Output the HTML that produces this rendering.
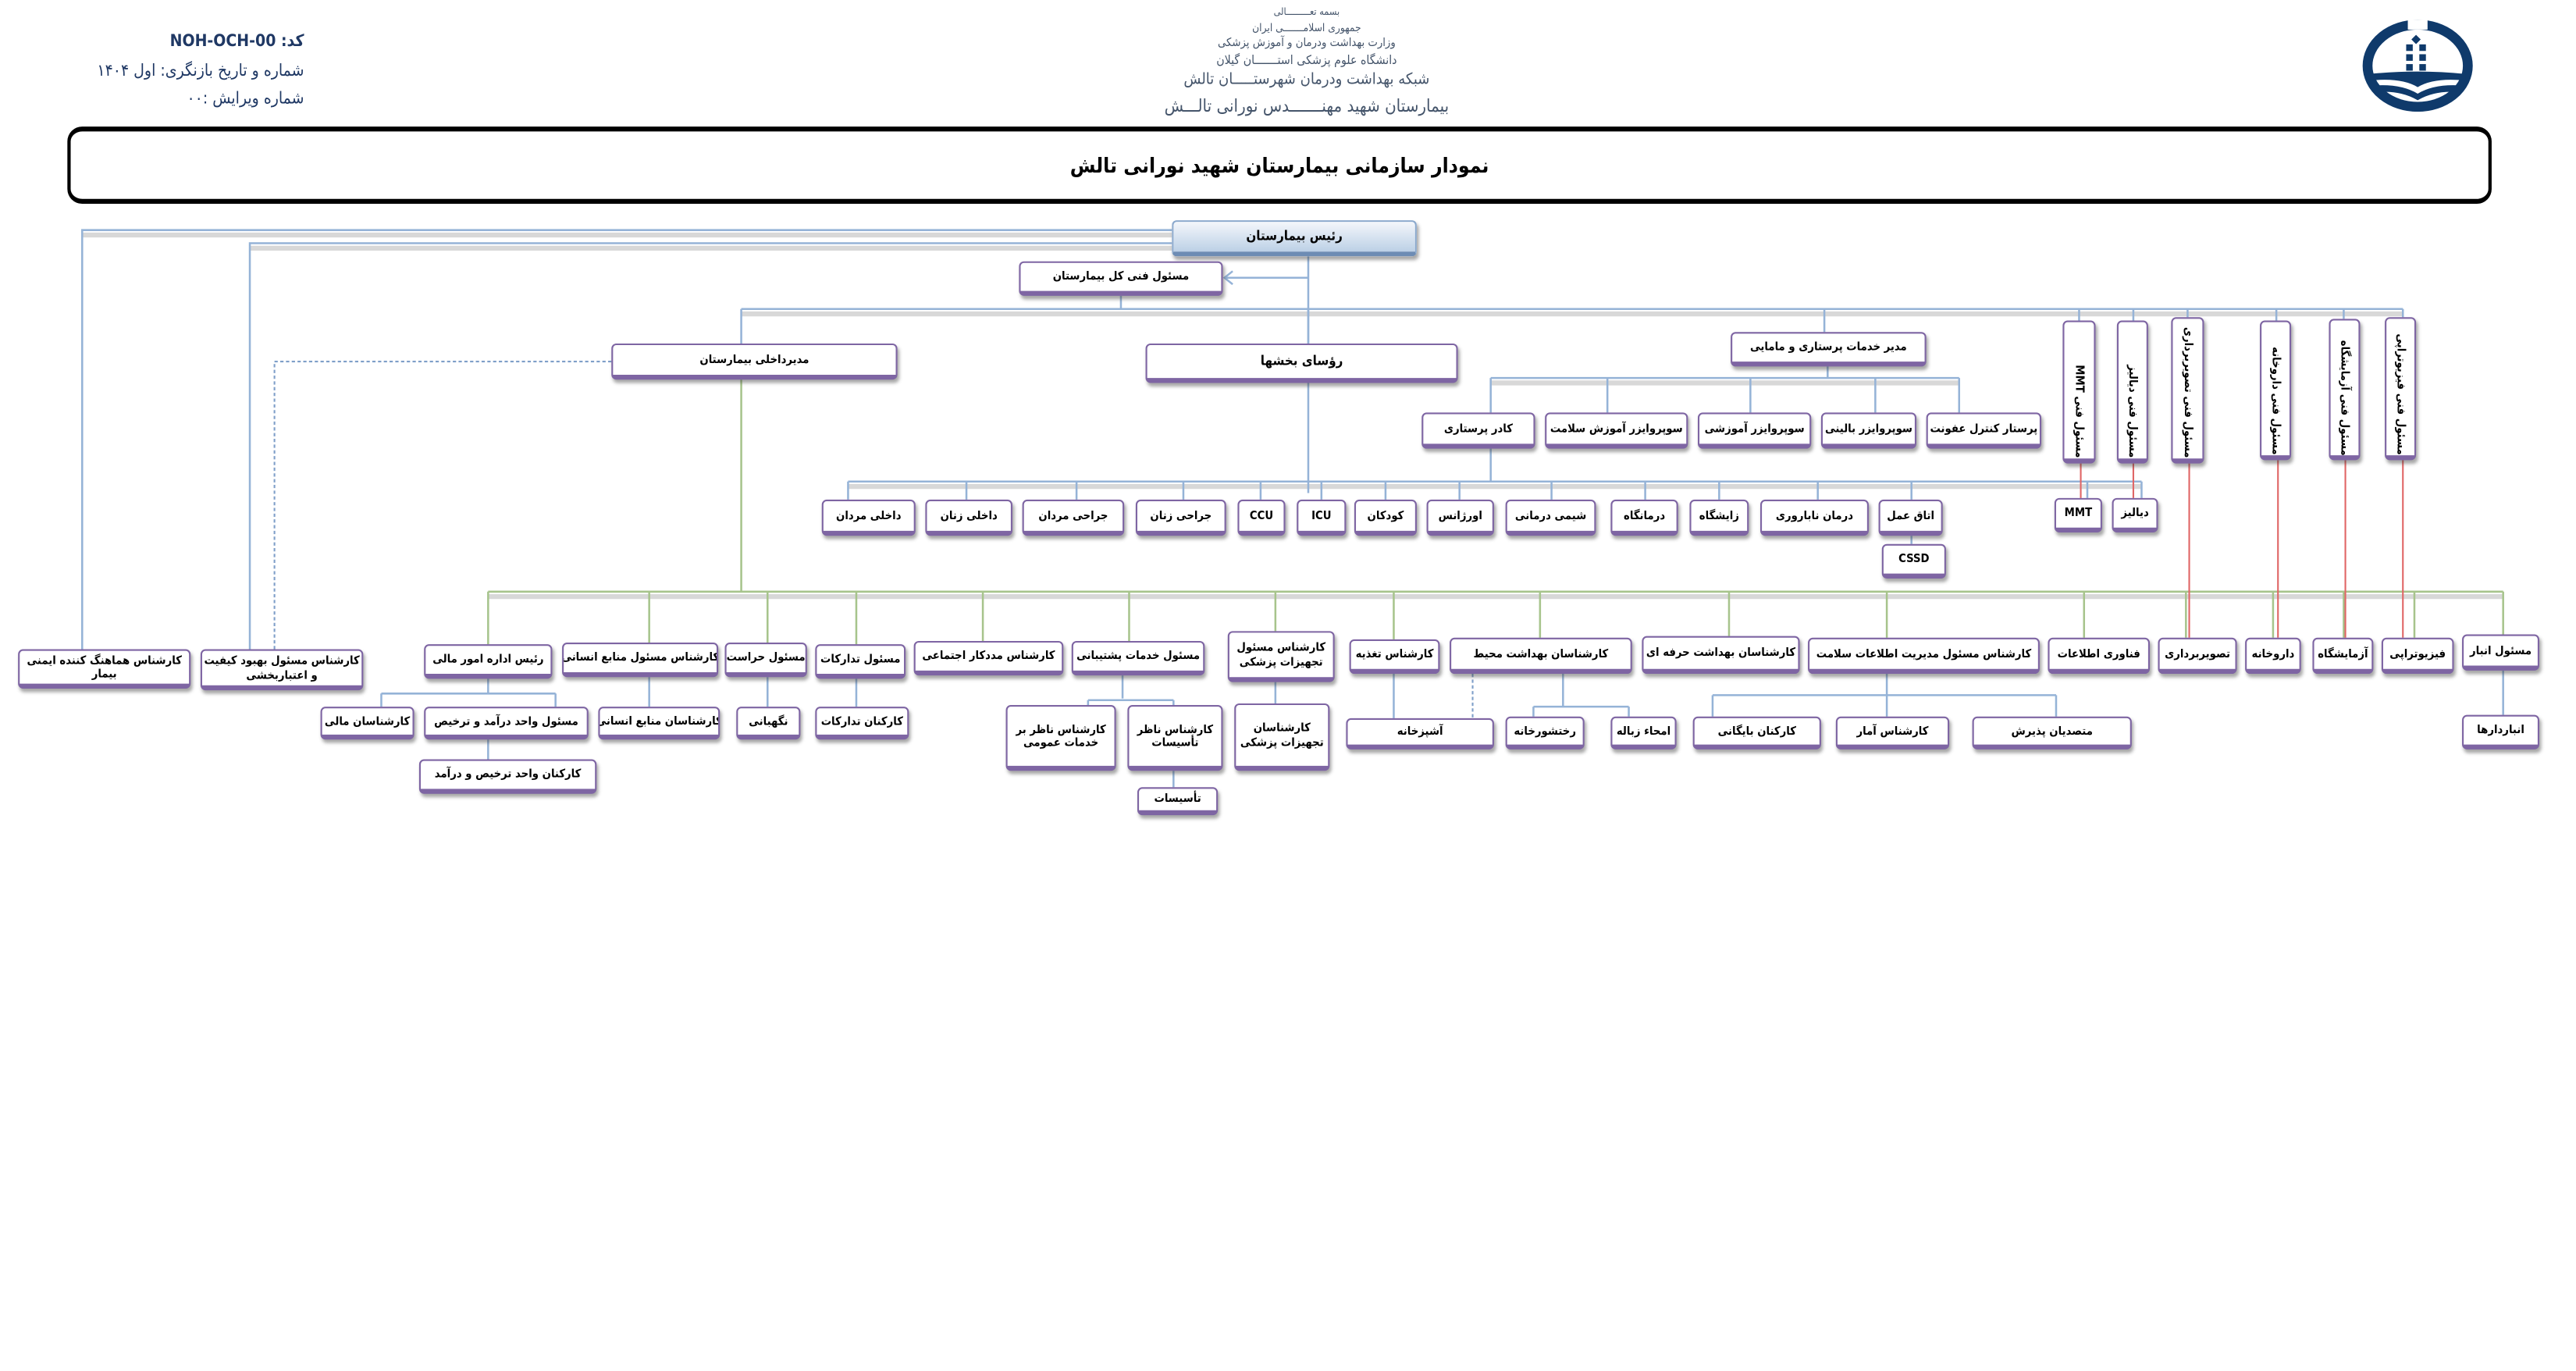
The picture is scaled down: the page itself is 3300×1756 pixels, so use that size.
<!DOCTYPE html>
<html><head><meta charset="utf-8">
<style>
html,body{margin:0;padding:0;background:#fff;width:3300px;height:1755px;overflow:hidden}
#w{position:absolute;left:0;top:0;width:1570px;height:834px;transform:scale(2.1055,2.1050);transform-origin:0 0;font-family:"DejaVu Sans Condensed","DejaVu Sans","Liberation Sans",sans-serif;font-stretch:condensed}
.b{position:absolute;box-sizing:border-box;background:#fff;border:1.6px solid #7e65a3;border-bottom:3px solid #7e65a3;border-radius:3px;box-shadow:1px 2px 2px rgba(60,60,60,.45);display:flex;align-items:center;justify-content:center;text-align:center;font-weight:bold;font-size:7px;line-height:1.2;color:#000;direction:rtl;overflow:hidden;padding:0 1px;white-space:nowrap}
.v{writing-mode:vertical-rl;justify-content:flex-start;padding-top:8px}
.t{position:absolute;direction:rtl;white-space:nowrap;color:#44546a}
</style></head><body><div id="w">

<div class="t" style="right:1385px;top:20px;font-size:10px;color:#1f3864;font-weight:bold">کد: NOH-OCH-00</div>
<div class="t" style="right:1385px;top:38px;font-size:10px;color:#1f3864">شماره و تاریخ بازنگری: اول ۱۴۰۴</div>
<div class="t" style="right:1385px;top:55px;font-size:10px;color:#1f3864">شماره ویرایش :۰۰</div>
<div class="t" style="left:795px;top:4px;transform:translateX(-50%);font-size:6px">بسمه تعـــــــــالی</div>
<div class="t" style="left:795px;top:13px;transform:translateX(-50%);font-size:6.5px">جمهوری اسلامـــــــی ایران</div>
<div class="t" style="left:795px;top:22px;transform:translateX(-50%);font-size:7px">وزارت بهداشت ودرمان و آموزش پزشکی</div>
<div class="t" style="left:795px;top:32px;transform:translateX(-50%);font-size:7.5px">دانشگاه علوم پزشکی استـــــــان گیلان</div>
<div class="t" style="left:795px;top:43px;transform:translateX(-50%);font-size:9.5px">شبکه بهداشت ودرمان شهرستـــــان تالش</div>
<div class="t" style="left:795px;top:59px;transform:translateX(-50%);font-size:10.5px">بیمارستان شهید مهنـــــــدس نورانی تالـــش</div>
<svg style="position:absolute;left:1436px;top:12px" width="70" height="56" viewBox="0 0 70 56">
<ellipse cx="35" cy="28" rx="30.5" ry="25" fill="none" stroke="#0f3a6b" stroke-width="6"/>
<rect x="29" y="0" width="12" height="6" fill="#fff"/>
<g fill="#0f3a6b"><rect x="32" y="10" width="4" height="4" transform="rotate(45 34 12)"/>
<rect x="28" y="15" width="4" height="4"/><rect x="36" y="15" width="4" height="4"/>
<rect x="28" y="21" width="4" height="4"/><rect x="36" y="21" width="4" height="4"/>
<rect x="28" y="27" width="4" height="4"/><rect x="36" y="27" width="4" height="4"/>
<path d="M6 33 Q35 30 64 33 L64 37 Q45 35 35 41 Q25 35 6 37Z"/>
<path d="M9 40 Q25 39 35 45 Q45 39 61 40 L59 44 Q45 43 35 49 Q25 43 11 44Z"/></g>
</svg>
<div style="position:absolute;left:41px;top:77px;width:1475px;height:47px;box-sizing:border-box;border:2px solid #000;border-top-width:3px;border-bottom-width:3px;border-radius:9px;display:flex;align-items:center;justify-content:center;font-weight:bold;font-size:12.5px;direction:rtl">نمودار سازمانی بیمارستان شهید نورانی تالش</div>

<svg style="position:absolute;left:0;top:0" width="1570" height="834">
<g stroke="#d8d8d8" stroke-width="3" fill="none">
<path d="M50 143 H713 M152 151 H713 M451 191 H1462 M907 233 H1192 M516 296 H1303 M297 363 H1523"/>
</g>
<g stroke="#95b3d7" stroke-width="1.2" fill="none">
<path d="M713 140 H50 V395 M713 148 H152 V395"/>
<path d="M796 156 V300 M796 169 H746"/>
<path d="M750 165 L745 169 L750 173"/>
<path d="M682 180 V188"/>
<path d="M451 188 H1462 M451 188 V209 M796 188 V209 M1110 188 V202 M1265 188 V195 M1298 188 V195 M1331 188 V193 M1385 188 V195 M1426 188 V194 M1462 188 V193"/>
<path d="M1112 223 V230 M907 230 H1192 M907 230 V251 M978 230 V251 M1065 230 V251 M1141 230 V251 M1192 230 V251"/>
<path d="M907 273 V293 M516 293 H1303"/>
<path d="M516 293 V304 M588 293 V304 M655 293 V304 M720 293 V304 M767 293 V304 M804 293 V304 M843 293 V304 M888 293 V304 M944 293 V304 M1001 293 V304 M1046 293 V304 M1106 293 V304 M1163 293 V304 M1270 293 V303 M1303 293 V303 M1163 326 V331"/>
<path d="M297 413 V422 M232 422 H338 M232 422 V430 M338 422 V430 M297 450 V462"/>
<path d="M395 412 V430 M467 412 V430 M521 413 V430 M683 411 V425 M662 426 H714 M662 426 V429 M714 426 V429 M714 469 V479 M776 415 V428"/>
<path d="M848 410 V437 M951 410 V430 M933 430 H991 M933 430 V436 M991 430 V436 M1148 410 V423 M1042 423 H1251 M1042 423 V436 M1251 423 V436 M1148 423 V436 M1523 408 V435"/>
</g>
<path d="M372 220 H167 V395 M896 410 V437" stroke="#7f9fc9" stroke-width="1" stroke-dasharray="2,1.5" fill="none"/>
<g stroke="#a7c48c" stroke-width="1.2" fill="none">
<path d="M451 231 V360 M297 360 H1523 M297 360 V392 M395 360 V391 M467 360 V391 M521 360 V392 M598 360 V390 M687 360 V390 M776 360 V384 M848 360 V389 M937 360 V388 M1052 360 V387 M1148 360 V388 M1268 360 V388 M1330 360 V388 M1383 360 V388 M1426 360 V388 M1469 360 V388 M1523 360 V386"/>
</g>
<g stroke="#e06666" stroke-width="1" fill="none">
<path d="M1266 282 V303 M1298 282 V303 M1332 282 V388 M1386 280 V388 M1427 280 V388 M1462 280 V388"/>
</g>
</svg>

<div class="b" style="left:713px;top:134px;width:149px;height:22px;background:linear-gradient(#f4f7fb,#bcd0e6);border-color:#8aa8cc;border-bottom-color:#6d8cb4;font-size:8px">رئیس بیمارستان</div>
<div class="b" style="left:620px;top:159px;width:124px;height:21px">مسئول فنی کل بیمارستان</div>
<div class="b" style="left:372px;top:209px;width:174px;height:22px">مدیرداخلی بیمارستان</div>
<div class="b" style="left:697px;top:209px;width:190px;height:24px;font-size:8px">رؤسای بخشها</div>
<div class="b" style="left:1053px;top:202px;width:119px;height:21px">مدیر خدمات پرستاری و مامایی</div>

<div class="b v" style="left:1255px;top:195px;width:20px;height:87px">مسئول فنی MMT</div>
<div class="b v" style="left:1288px;top:195px;width:19px;height:87px">مسئول فنی دیالیز</div>
<div class="b v" style="left:1321px;top:193px;width:20px;height:89px">مسئول فنی تصویربرداری</div>
<div class="b v" style="left:1375px;top:195px;width:19px;height:85px">مسئول فنی داروخانه</div>
<div class="b v" style="left:1417px;top:194px;width:19px;height:86px">مسئول فنی آزمایشگاه</div>
<div class="b v" style="left:1451px;top:193px;width:19px;height:87px">مسئول فنی فیزیوتراپی</div>

<div class="b" style="left:865px;top:251px;width:69px;height:22px">کادر پرستاری</div>
<div class="b" style="left:940px;top:251px;width:87px;height:22px">سوپروایزر آموزش سلامت</div>
<div class="b" style="left:1033px;top:251px;width:69px;height:22px">سوپروایزر آموزشی</div>
<div class="b" style="left:1108px;top:251px;width:58px;height:22px">سوپروایزر بالینی</div>
<div class="b" style="left:1172px;top:251px;width:70px;height:22px">پرستار کنترل عفونت</div>

<div class="b" style="left:500px;top:304px;width:57px;height:22px">داخلی مردان</div>
<div class="b" style="left:563px;top:304px;width:53px;height:22px">داخلی زنان</div>
<div class="b" style="left:622px;top:304px;width:62px;height:22px">جراحی مردان</div>
<div class="b" style="left:691px;top:304px;width:55px;height:22px">جراحی زنان</div>
<div class="b" style="left:753px;top:304px;width:29px;height:22px">CCU</div>
<div class="b" style="left:789px;top:304px;width:30px;height:22px">ICU</div>
<div class="b" style="left:824px;top:304px;width:38px;height:22px">کودکان</div>
<div class="b" style="left:868px;top:304px;width:41px;height:22px">اورژانس</div>
<div class="b" style="left:916px;top:304px;width:55px;height:22px">شیمی درمانی</div>
<div class="b" style="left:980px;top:304px;width:41px;height:22px">درمانگاه</div>
<div class="b" style="left:1028px;top:304px;width:36px;height:22px">زایشگاه</div>
<div class="b" style="left:1071px;top:304px;width:66px;height:22px">درمان ناباروری</div>
<div class="b" style="left:1143px;top:304px;width:39px;height:22px">اتاق عمل</div>
<div class="b" style="left:1250px;top:303px;width:29px;height:21px">MMT</div>
<div class="b" style="left:1285px;top:303px;width:28px;height:21px">دیالیز</div>
<div class="b" style="left:1145px;top:331px;width:39px;height:21px">CSSD</div>

<div class="b" style="left:11px;top:395px;width:105px;height:24px">کارشناس هماهنگ کننده ایمنی<br>بیمار</div>
<div class="b" style="left:122px;top:395px;width:99px;height:25px">کارشناس مسئول بهبود کیفیت<br>و اعتباربخشی</div>
<div class="b" style="left:258px;top:392px;width:78px;height:21px">رئیس اداره امور مالی</div>
<div class="b" style="left:342px;top:391px;width:95px;height:21px">کارشناس مسئول منابع انسانی</div>
<div class="b" style="left:441px;top:391px;width:50px;height:21px">مسئول حراست</div>
<div class="b" style="left:496px;top:392px;width:55px;height:21px">مسئول تدارکات</div>
<div class="b" style="left:556px;top:390px;width:91px;height:21px">کارشناس مددکار اجتماعی</div>
<div class="b" style="left:652px;top:390px;width:81px;height:21px">مسئول خدمات پشتیبانی</div>
<div class="b" style="left:747px;top:384px;width:65px;height:31px">کارشناس مسئول<br>تجهیزات پزشکی</div>
<div class="b" style="left:821px;top:389px;width:55px;height:21px">کارشناس تغذیه</div>
<div class="b" style="left:882px;top:388px;width:111px;height:22px">کارشناسان بهداشت محیط</div>
<div class="b" style="left:999px;top:387px;width:96px;height:23px">کارشناسان بهداشت حرفه ای</div>
<div class="b" style="left:1100px;top:388px;width:141px;height:22px">کارشناس مسئول مدیریت اطلاعات سلامت</div>
<div class="b" style="left:1246px;top:388px;width:62px;height:22px">فناوری اطلاعات</div>
<div class="b" style="left:1313px;top:388px;width:48px;height:22px">تصویربرداری</div>
<div class="b" style="left:1366px;top:388px;width:34px;height:22px">داروخانه</div>
<div class="b" style="left:1407px;top:388px;width:37px;height:22px">آزمایشگاه</div>
<div class="b" style="left:1449px;top:388px;width:44px;height:22px">فیزیوتراپی</div>
<div class="b" style="left:1498px;top:386px;width:47px;height:22px">مسئول انبار</div>

<div class="b" style="left:195px;top:430px;width:57px;height:20px">کارشناسان مالی</div>
<div class="b" style="left:258px;top:430px;width:100px;height:20px">مسئول واحد درآمد و ترخیص</div>
<div class="b" style="left:255px;top:462px;width:108px;height:21px">کارکنان واحد ترخیص و درآمد</div>
<div class="b" style="left:364px;top:430px;width:74px;height:20px">کارشناسان منابع انسانی</div>
<div class="b" style="left:448px;top:430px;width:39px;height:20px">نگهبانی</div>
<div class="b" style="left:496px;top:430px;width:57px;height:20px">کارکنان تدارکات</div>
<div class="b" style="left:612px;top:429px;width:67px;height:40px">کارشناس ناظر بر<br>خدمات عمومی</div>
<div class="b" style="left:686px;top:429px;width:58px;height:40px">کارشناس ناظر<br>تأسیسات</div>
<div class="b" style="left:692px;top:479px;width:49px;height:17px">تأسیسات</div>
<div class="b" style="left:751px;top:428px;width:58px;height:41px">کارشناسان<br>تجهیزات پزشکی</div>
<div class="b" style="left:819px;top:437px;width:90px;height:19px">آشپزخانه</div>
<div class="b" style="left:916px;top:436px;width:48px;height:20px">رختشورخانه</div>
<div class="b" style="left:980px;top:436px;width:40px;height:20px">امحاء زباله</div>
<div class="b" style="left:1030px;top:436px;width:78px;height:20px">کارکنان بایگانی</div>
<div class="b" style="left:1117px;top:436px;width:69px;height:20px">کارشناس آمار</div>
<div class="b" style="left:1200px;top:436px;width:97px;height:20px">متصدیان پذیرش</div>
<div class="b" style="left:1498px;top:435px;width:47px;height:21px">انباردارها</div>

</div></body></html>
